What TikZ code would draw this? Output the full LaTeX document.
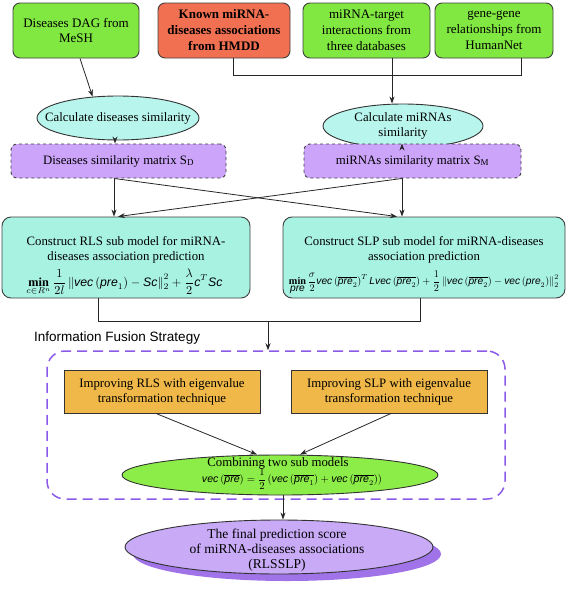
\documentclass[tikz,border=0pt]{standalone}
\usepackage{fontspec}
\setmainfont{Liberation Serif}
\setsansfont{Liberation Sans}
\newfontfamily\formsans{Liberation Sans}
\usepackage{amsmath}
\usepackage{graphicx}
\usetikzlibrary{shapes.geometric,arrows.meta,shadows,calc}
\definecolor{cgreen}{RGB}{128,232,64}
\definecolor{cred}{RGB}{242,112,82}
\definecolor{ccyan}{RGB}{184,245,236}
\definecolor{cpurp}{RGB}{204,164,250}
\definecolor{cteal}{RGB}{168,242,226}
\definecolor{corange}{RGB}{240,184,72}
\definecolor{cge}{RGB}{140,236,72}
\definecolor{cfe}{RGB}{200,170,246}
\definecolor{cshadow}{RGB}{160,115,232}
\definecolor{cframe}{RGB}{140,90,235}
\newcommand\mv[1]{\mbox{\formsans\itshape #1}}
\begin{document}
\begin{tikzpicture}[x=1pt,y=-1pt,
  topbox/.style={draw=black!75, line width=0.9pt, rounded corners=7pt, align=center, inner sep=0pt, minimum height=55pt, font=\fontsize{13}{15}\selectfont},
  ellbox/.style={ellipse, draw=black!80, line width=0.9pt, inner sep=0pt},
  txt/.style={align=center, inner sep=0pt, font=\fontsize{12.8}{15}\selectfont},
  matbox/.style={draw=black!75, dashed, line width=0.9pt, rounded corners=6pt, fill=cpurp, minimum height=34pt, inner sep=0pt, font=\fontsize{12.8}{15}\selectfont},
  modbox/.style={draw=black!75, line width=0.9pt, rounded corners=9pt, fill=cteal, minimum height=81pt, inner sep=0pt},
  impbox/.style={draw=black!80, line width=0.9pt, fill=corange, minimum height=43pt, minimum width=196pt, inner sep=0pt, align=center, font=\fontsize{12.8}{15}\selectfont},
  frame/.style={draw=cframe, line width=1.5pt, dash pattern=on 10pt off 6pt, rounded corners=18pt, inner sep=0pt},
  ln/.style={line width=0.8pt, draw=black!85},
  arr/.style={ln, -{Stealth[length=7pt,width=5pt]}}
]
\useasboundingbox (0,0) rectangle (567,592);

% top sources
\node[topbox, fill=cgreen, minimum width=126pt] (dag) at (76,30.5) {Diseases DAG from\\MeSH};
\node[topbox, fill=cred, minimum width=132pt, font=\bfseries\fontsize{13}{16}\selectfont] (hmdd) at (224,30.5) {Known miRNA-\\diseases associations\\from HMDD};
\node[topbox, fill=cgreen, minimum width=127pt, font=\fontsize{13}{16}\selectfont] (target) at (366.5,30.5) {miRNA-target\\interactions from\\three databases};
\node[topbox, fill=cgreen, minimum width=118pt, font=\fontsize{13}{16}\selectfont] (gene) at (494,30.5) {gene-gene\\relationships from\\HumanNet};

% similarity ellipses
\node[ellbox, fill=ccyan, minimum width=162pt, minimum height=44pt] (c1) at (118,118) {};
\node[txt] (c1t) at (c1) {Calculate diseases similarity};
\node[ellbox, fill=ccyan, minimum width=160pt, minimum height=44pt] (c2) at (403,126) {};
\node[txt] (c2t) at (c2) {Calculate miRNAs\\similarity};

% matrices
\node[matbox, minimum width=215pt] (pd) at (118.5,161) {Diseases similarity matrix S\textsubscript{D}};
\node[matbox, minimum width=217pt] (pm) at (412.5,161) {miRNAs similarity matrix S\textsubscript{M}};

% sub models
\node[modbox, minimum width=248pt] (rls) at (126,257.5) {};
\node[txt] (rlst) at (126,249.5) {Construct RLS sub model for miRNA-\\diseases association prediction};
\node[inner sep=0pt] (rlsf) at (124.5,282.5) {\resizebox{196pt}{!}{$\displaystyle\mathop{\mathbf{min}}\limits_{c\in R^{n}}\frac{1}{2l}\left\|\mv{vec}\left(\mv{pre}_{1}\right)-\mv{Sc}\right\|_{2}^{2}+\frac{\lambda}{2}\mv{c}^{T}\mv{Sc}$}};
\node[modbox, minimum width=282pt] (slp) at (424,257.5) {};
\node[txt] (slpt) at (424,250) {Construct SLP sub model for miRNA-diseases\\association prediction};
\node[inner sep=0pt] (slpf) at (424,283) {\resizebox{270pt}{!}{$\displaystyle\mathop{\mathbf{min}}\limits_{\mv{pre}}\frac{\sigma}{2}\mv{vec}\left(\overline{\mv{pre}_{2}}\right)^{T}\mv{Lvec}\left(\overline{\mv{pre}_{2}}\right)+\frac{1}{2}\left\|\mv{vec}\left(\overline{\mv{pre}_{2}}\right)-\mv{vec}\left(\mv{pre}_{2}\right)\right\|_{2}^{2}$}};

% fusion frame
\node[anchor=west, inner sep=0pt, font=\sffamily\fontsize{13.5}{15}\selectfont] (lab) at (34,338) {Information Fusion Strategy};
\node[frame, minimum width=458pt, minimum height=148pt] (fs) at (276,425) {};
\node[impbox] (o1) at (162,391.5) {Improving RLS with eigenvalue\\transformation technique};
\node[impbox] (o2) at (389,391.5) {Improving SLP with eigenvalue\\transformation technique};
\node[ellbox, fill=cge, minimum width=316pt, minimum height=40pt] (ge) at (280,475) {};
\node[txt] (get) at (278,463) {Combining two sub models};
\node[inner sep=0pt] (gef) at (292,479) {\resizebox{180pt}{!}{$\displaystyle\mv{vec}\left(\overline{\mv{pre}}\right)=\frac{1}{2}\left(\mv{vec}\left(\overline{\mv{pre}_{1}}\right)+\mv{vec}\left(\overline{\mv{pre}_{2}}\right)\right)$}};

% final
\node[ellbox, fill=cfe, minimum width=308pt, minimum height=54pt, drop shadow={shadow xshift=8pt, shadow yshift=-7pt, fill=cshadow, opacity=1}] (fe) at (279,547) {};
\node[txt, font=\fontsize{13.5}{15}\selectfont] (fet) at (277,550) {The final prediction score\\of miRNA-diseases associations\\(RLSSLP)};

% connectors
\draw[arr] ([xshift=4pt]dag.south) -- (c1.140);
\draw[ln] ([xshift=9pt]hmdd.south) -- ++(0,17) -| ([xshift=27pt]gene.south);
\draw[arr] ([xshift=25.5pt]target.south) -- ([xshift=-11pt]c2.north);
\draw[arr] ([xshift=-3pt]c1.south) -- ([xshift=-3pt]c1.south |- pd.north);
\draw[arr] ([xshift=-1pt]c2.south) -- ([xshift=-1pt]c2.south |- pm.north);
\coordinate (p1) at ([xshift=-4.5pt]pd.south);
\coordinate (p2) at ([xshift=-10.5pt]pm.south);
\draw[arr] (p1) -- (p1 |- rls.north);
\draw[arr] (p1) -- ([xshift=-27pt]slp.north);
\draw[arr] (p2) -- (p2 |- slp.north);
\draw[arr] (p2) -- ([xshift=-8pt]rls.north);
\draw[ln] ([xshift=-28pt]rls.south) -- ++(0,23) -| ([xshift=-4pt]slp.south);
\coordinate (m) at (268,321);
\draw[arr] (m) -- (m |- fs.north);
\draw[arr] ([xshift=-6pt]o1.south) -- ([xshift=-23pt]ge.north);
\draw[arr] ([xshift=2pt]o2.south) -- ([xshift=20pt]ge.north);
\draw[arr] ([xshift=3pt]ge.south) -- ([xshift=3pt]ge.south |- fe.north);
\end{tikzpicture}
\end{document}
